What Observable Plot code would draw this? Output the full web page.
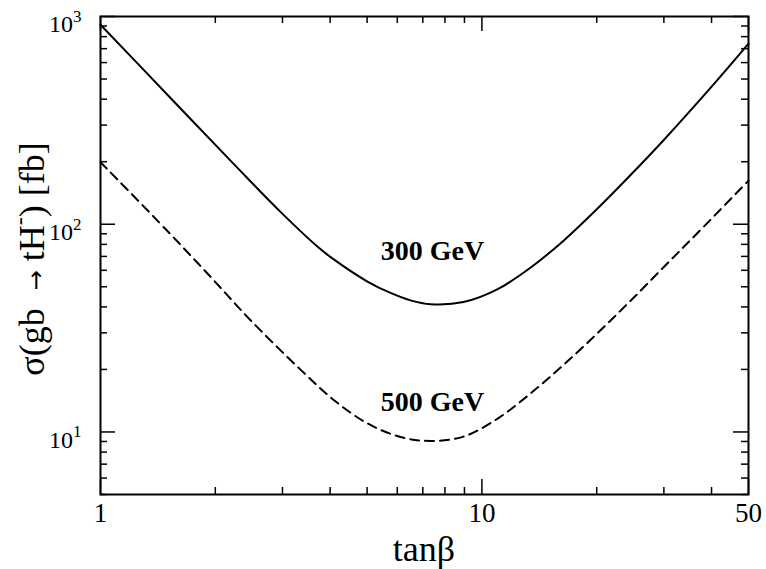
<!DOCTYPE html>
<html><head><meta charset="utf-8">
<script src="https://cdn.jsdelivr.net/npm/d3@7"></script>
<script src="https://cdn.jsdelivr.net/npm/@observablehq/plot@0.6"></script>
<style>body{margin:0;background:#fff}</style>
</head><body><div id="chart"></div>
<script>
// Data
const tanb300 = [1, 1.5, 2.26, 2.96, 3.71, 4.08, 5.01, 5.76, 6.5, 7.33, 8.95, 11, 13.4, 16.4, 20.1, 24.5, 29.9, 40.5, 50];
const sigma300 = [913, 419, 191, 115, 77.9, 67.9, 53, 46.7, 43, 41.2, 42.2, 48.7, 61.7, 83.6, 119, 172, 253, 471, 740];
const tanb500 = [1, 1.5, 1.94, 2.47, 3.35, 4.08, 5.01, 6.12, 7.33, 8.95, 11, 13.4, 16.4, 20.1, 24.5, 29.9, 36.7, 50];
const sigma500 = [199, 92.5, 56, 34.6, 19.9, 14.3, 11, 9.46, 9.05, 9.5, 11.6, 15.3, 21.1, 29.9, 42.7, 61.9, 90.5, 162];
const curveLabels = ["300 GeV", "500 GeV"];
const labelTanb = [7.42, 7.42];
const labelSigma = [74, 13.9];
const xMajor = [1, 10, 50];
const xMinor = [2, 3, 4, 5, 6, 7, 8, 9, 20, 30, 40];
const yMajor = [10, 100, 1000];
const yMinor = [5, 6, 7, 8, 9, 20, 30, 40, 50, 60, 70, 80, 90, 200, 300, 400, 500, 600, 700, 800, 900];

const rows300 = tanb300.map((t, i) => ({t, s: sigma300[i]}));
const rows500 = tanb500.map((t, i) => ({t, s: sigma500[i]}));
const labelRows = curveLabels.map((text, i) => ({text, t: labelTanb[i], s: labelSigma[i]}));

const font = "'Liberation Serif', 'Times New Roman', serif";
const W = 766, H = 569, mL = 100, mR = 18, mT = 16, mB = 75;
const fw = W - mL - mR, fh = H - mT - mB;
const major = 15, minor = 7;

const plot = Plot.plot({
  width: W, height: H,
  marginLeft: mL, marginRight: mR, marginTop: mT, marginBottom: mB,
  style: {fontFamily: font, background: "white", color: "black"},
  x: {type: "log", domain: [1, 50]},
  y: {type: "log", domain: [5, 1000]},
  marks: [
    Plot.tickX(xMajor, {x: d => d, insetTop: fh - major, stroke: "black", strokeWidth: 1.5}),
    Plot.tickX(xMajor, {x: d => d, insetBottom: fh - major, stroke: "black", strokeWidth: 1.5}),
    Plot.tickX(xMinor, {x: d => d, insetTop: fh - minor, stroke: "black", strokeWidth: 1.5}),
    Plot.tickX(xMinor, {x: d => d, insetBottom: fh - minor, stroke: "black", strokeWidth: 1.5}),
    Plot.tickY(yMajor, {y: d => d, insetRight: fw - major, stroke: "black", strokeWidth: 1.5}),
    Plot.tickY(yMajor, {y: d => d, insetLeft: fw - major, stroke: "black", strokeWidth: 1.5}),
    Plot.tickY(yMinor, {y: d => d, insetRight: fw - minor, stroke: "black", strokeWidth: 1.5}),
    Plot.tickY(yMinor, {y: d => d, insetLeft: fw - minor, stroke: "black", strokeWidth: 1.5}),
    Plot.axisX(xMajor, {anchor: "bottom", tickSize: 0, tickPadding: 8, fontSize: 27, tickFormat: d => String(d), label: null}),
    Plot.axisY(yMajor, {anchor: "left", tickSize: 0, tickPadding: 19, fontSize: 24, dy: 8, tickFormat: d => "10^" + Math.round(Math.log10(d)), label: null}),
    Plot.line(rows300, {x: "t", y: "s", stroke: "black", strokeWidth: 2, curve: "catmull-rom"}),
    Plot.line(rows500, {x: "t", y: "s", stroke: "black", strokeWidth: 2, strokeDasharray: "9,6", curve: "catmull-rom"}),
    Plot.text(labelRows, {x: "t", y: "s", text: "text", fontSize: 28, fontWeight: "bold", fill: "black"}),
    Plot.frame({stroke: "black", strokeWidth: 2})
  ]
});
document.getElementById("chart").appendChild(plot);

const svg = d3.select(plot);
// superscript exponents on y tick labels
svg.selectAll("text").each(function() {
  const m = /^10\^(\d)$/.exec(this.textContent.trim());
  if (!m) return;
  const t = d3.select(this);
  t.selectAll("*").remove();
  t.text("");
  t.append("tspan").text("10");
  t.append("tspan").attr("font-size", 17).attr("dy", "-0.6em").text(m[1]);
});
// axis titles
svg.append("text")
  .attr("x", mL + fw / 2).attr("y", H - 8)
  .attr("text-anchor", "middle").attr("font-family", font).attr("font-size", 36)
  .text("tanβ");
const yl = svg.append("text")
  .attr("transform", `translate(44,${mT + fh / 2 + 4}) rotate(-90)`)
  .attr("text-anchor", "middle").attr("font-family", font).attr("font-size", 36);
yl.append("tspan").text("σ(gb  ");
yl.append("tspan").attr("font-family", "'DejaVu Sans'").attr("font-size", 24).text("→");
yl.append("tspan").text(" tH");
yl.append("tspan").attr("font-size", 24).attr("dy", "-0.7em").text("-");
yl.append("tspan").attr("dy", "0.47em").text(") [fb]");
</script>
</body></html>
